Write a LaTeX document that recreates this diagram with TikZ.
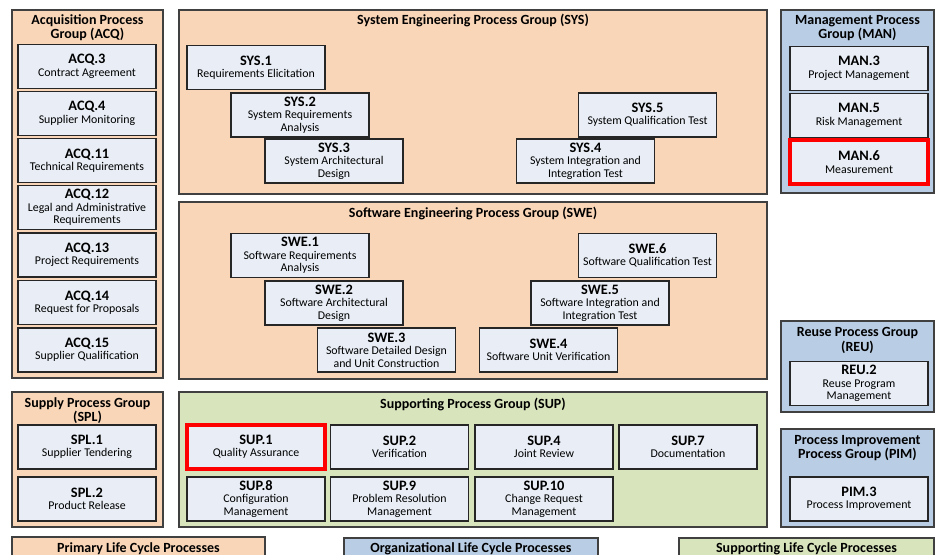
\documentclass[tikz,border=0pt]{standalone}
\usepackage{fontspec}
\setmainfont{Carlito}
\definecolor{peach}{RGB}{250,214,184}
\definecolor{boxfill}{RGB}{233,238,246}
\definecolor{bluegrp}{RGB}{185,205,228}
\definecolor{greengrp}{RGB}{216,228,188}
\definecolor{grpline}{RGB}{64,64,64}
\tikzset{
 grp/.style={draw=grpline, line width=0.9pt},
 pbox/.style={draw=black!85, line width=0.8pt, fill=boxfill, minimum width=103.5pt, minimum height=33pt, inner sep=0pt, align=center, font=\fontsize{8.9}{9.3}\selectfont},
 hl/.style={draw=red, line width=2.6pt},
 gtitle/.style={font=\bfseries\fontsize{10.5}{10.6}\selectfont, align=center, inner sep=0pt},
}
\newcommand\pc[1]{{\bfseries\fontsize{10.8}{9.8}\selectfont #1}}
\begin{document}
\begin{tikzpicture}[x=0.75pt,y=-0.75pt]
\useasboundingbox (0,0) rectangle (938,555);
\clip (0,0) rectangle (938,555);
% groups
\draw[grp, fill=peach] (12,10) rectangle (163,378);
\draw[grp, fill=peach] (179,10) rectangle (767,194);
\draw[grp, fill=peach] (179,202) rectangle (767,379);
\draw[grp, fill=bluegrp] (781,10) rectangle (934,193);
\draw[grp, fill=bluegrp] (781,321) rectangle (934,412);
\draw[grp, fill=bluegrp] (781,429) rectangle (934,527);
\draw[grp, fill=peach] (12,392) rectangle (163,527);
\draw[grp, fill=greengrp] (179,392) rectangle (767,527);
% legend
\draw[grp, fill=peach] (12,537) rectangle (265,570);
\draw[grp, fill=bluegrp] (344,538) rectangle (598,570);
\draw[grp, fill=greengrp] (679,538) rectangle (934,570);
\node[gtitle] (lgp) at (138.5,549) {Primary Life Cycle Processes};
\node[gtitle] (lgo) at (471,549) {Organizational Life Cycle Processes};
\node[gtitle] (lgs) at (806.5,549) {Supporting Life Cycle Processes};
% titles
\node[gtitle] (tacq) at (87.5,27.7) {Acquisition Process\\Group (ACQ)};
\node[gtitle] (tsys) at (473,20.5) {System Engineering Process Group (SYS)};
\node[gtitle] (tswe) at (473,213) {Software Engineering Process Group (SWE)};
\node[gtitle] (tman) at (857.5,27.7) {Management Process\\Group (MAN)};
\node[gtitle] (treu) at (857.5,340.5) {Reuse Process Group\\(REU)};
\node[gtitle] (tpim) at (857.5,448) {Process Improvement\\Process Group (PIM)};
\node[gtitle] (tspl) at (87.5,411) {Supply Process Group\\(SPL)};
\node[gtitle] (tsup) at (473,404.5) {Supporting Process Group (SUP)};
% ACQ
\node[pbox] (acq3) at (87,66.5) {\pc{ACQ.3}\\Contract Agreement};
\node[pbox] (acq4) at (87,113.5) {\pc{ACQ.4}\\Supplier Monitoring};
\node[pbox] (acq11) at (87,160.5) {\pc{ACQ.11}\\Technical Requirements};
\node[pbox] (acq12) at (87,207.5) {\pc{ACQ.12}\\Legal and Administrative\\Requirements};
\node[pbox] (acq13) at (87,255) {\pc{ACQ.13}\\Project Requirements};
\node[pbox] (acq14) at (87,302.5) {\pc{ACQ.14}\\Request for Proposals};
\node[pbox] (acq15) at (87,350) {\pc{ACQ.15}\\Supplier Qualification};
% SYS
\node[pbox] (sys1) at (256,67.5) {\pc{SYS.1}\\Requirements Elicitation};
\node[pbox] (sys2) at (300,115) {\pc{SYS.2}\\System Requirements\\Analysis};
\node[pbox] (sys3) at (334,161) {\pc{SYS.3}\\System Architectural\\Design};
\node[pbox] (sys5) at (647.5,115) {\pc{SYS.5}\\System Qualification Test};
\node[pbox] (sys4) at (585.5,161) {\pc{SYS.4}\\System Integration and\\Integration Test};
% SWE
\node[pbox] (swe1) at (300,255.5) {\pc{SWE.1}\\Software Requirements\\Analysis};
\node[pbox] (swe2) at (334,303) {\pc{SWE.2}\\Software Architectural\\Design};
\node[pbox] (swe3) at (386.5,350) {\pc{SWE.3}\\Software Detailed Design\\and Unit Construction};
\node[pbox] (swe6) at (647.5,255.5) {\pc{SWE.6}\\Software Qualification Test};
\node[pbox] (swe5) at (600,303) {\pc{SWE.5}\\Software Integration and\\Integration Test};
\node[pbox] (swe4) at (548.5,350) {\pc{SWE.4}\\Software Unit Verification};
% MAN
\node[pbox] (man3) at (859,68.5) {\pc{MAN.3}\\Project Management};
\node[pbox] (man5) at (859,115.5) {\pc{MAN.5}\\Risk Management};
\node[pbox, hl] (man6) at (859,162) {\pc{MAN.6}\\Measurement};
% REU, PIM
\node[pbox] (reu2) at (859,383.5) {\pc{REU.2}\\Reuse Program\\Management};
\node[pbox] (pim3) at (859,499) {\pc{PIM.3}\\Process Improvement};
% SPL
\node[pbox] (spl1) at (87,447) {\pc{SPL.1}\\Supplier Tendering};
\node[pbox] (spl2) at (87,499) {\pc{SPL.2}\\Product Release};
% SUP
\node[pbox, hl] (sup1) at (256,447) {\pc{SUP.1}\\Quality Assurance};
\node[pbox] (sup2) at (399.5,447) {\pc{SUP.2}\\Verification};
\node[pbox] (sup4) at (544,447) {\pc{SUP.4}\\Joint Review};
\node[pbox] (sup7) at (688,447) {\pc{SUP.7}\\Documentation};
\node[pbox] (sup8) at (256,499) {\pc{SUP.8}\\Configuration\\Management};
\node[pbox] (sup9) at (399.5,499) {\pc{SUP.9}\\Problem Resolution\\Management};
\node[pbox] (sup10) at (544,499) {\pc{SUP.10}\\Change Request\\Management};
\end{tikzpicture}
\end{document}
